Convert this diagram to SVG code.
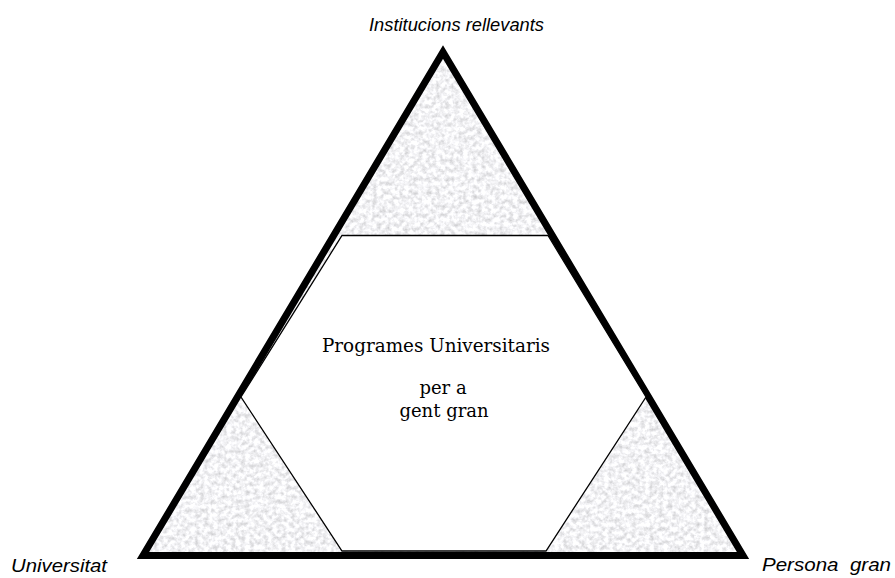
<svg xmlns="http://www.w3.org/2000/svg" width="895" height="578" viewBox="0 0 895 578">
  <style>
    .label { font-family: "Liberation Sans", Arial, sans-serif; font-style: italic; font-size: 19px; fill: #000; }
    .center { font-family: "DejaVu Serif", "Liberation Serif", serif; font-size: 18px; fill: #000; text-anchor: middle; }
  </style>
  <defs>
    <filter id="grain" x="0" y="0" width="1" height="1" color-interpolation-filters="sRGB">
      <feTurbulence type="fractalNoise" baseFrequency="0.22" numOctaves="3" seed="11" result="noise"/>
      <feColorMatrix in="noise" type="matrix" values="0.36 0 0 0 0.77  0.36 0 0 0 0.77  0.36 0 0 0 0.78  0 0 0 0 1" result="gray"/>
      <feComposite in="gray" in2="SourceGraphic" operator="in"/>
    </filter>
  </defs>
  <rect width="895" height="578" fill="#fff"/>
  <g id="triangle">
    <polygon points="443,52 143,555.5 743,555.5" fill="#ececec" filter="url(#grain)"/>
    <polygon points="443,52 143,555.5 743,555.5" fill="none" stroke="#000" stroke-width="7" stroke-linejoin="miter"/>
  </g>
  <g id="hexagon">
    <polygon points="342,235.5 548,235.5 646,397 546,551 342,551 241,397" fill="#fff" stroke="#000" stroke-width="1.3"/>
    <text class="center" x="436" y="352" textLength="228" lengthAdjust="spacingAndGlyphs">Programes Universitaris</text>
    <text class="center" x="443" y="394">per a</text>
    <text class="center" x="444" y="417">gent gran</text>
  </g>
  <g id="labels">
    <text class="label" x="369" y="31" textLength="175" lengthAdjust="spacingAndGlyphs">Institucions rellevants</text>
    <text class="label" x="11" y="572" textLength="96" lengthAdjust="spacingAndGlyphs">Universitat</text>
    <text class="label" x="762" y="571" textLength="129" lengthAdjust="spacingAndGlyphs" xml:space="preserve">Persona  gran</text>
  </g>
</svg>
